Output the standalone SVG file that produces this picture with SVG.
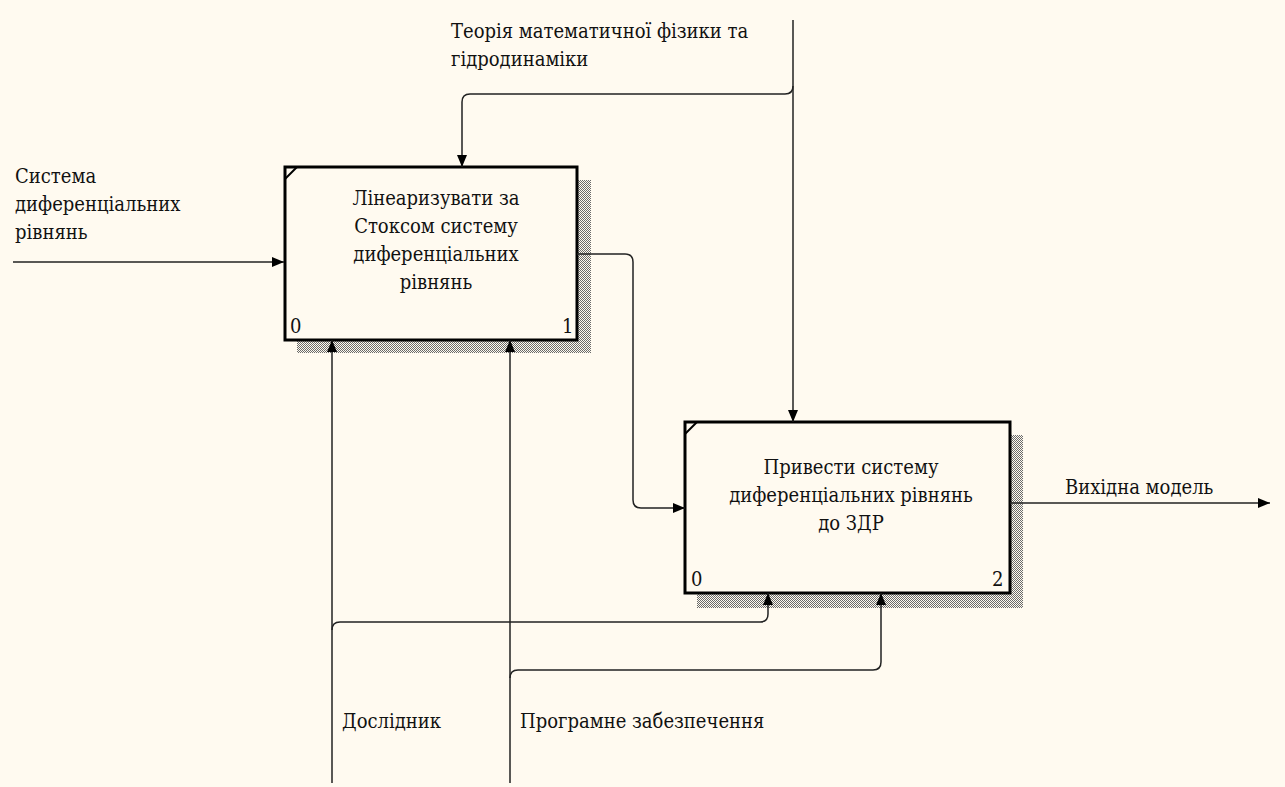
<svg xmlns="http://www.w3.org/2000/svg" width="1285" height="787" viewBox="0 0 1285 787">
<defs>
<pattern id="hatch" width="2" height="2" patternUnits="userSpaceOnUse">
<rect width="2" height="2" fill="#fffaf0"/>
<rect x="0" y="0" width="1" height="1" fill="#6a6a6a"/>
<rect x="1" y="1" width="1" height="1" fill="#6a6a6a"/>
</pattern>
<marker id="arr" viewBox="0 0 12 10" refX="12" refY="5" markerWidth="13" markerHeight="10" markerUnits="userSpaceOnUse" orient="auto">
<path d="M0,0 L12,5 L0,10 Z" fill="#000"/>
</marker>
</defs>
<style>
.t{font-family:"DejaVu Serif Condensed","DejaVu Serif",serif;font-size:20px;fill:#111}
.box{fill:#fffaf0;stroke:#000;stroke-width:3}
.sh{fill:url(#hatch)}
.ca{fill:none;stroke:#222;stroke-width:1.5;marker-end:url(#arr)}
.d{stroke:#000;stroke-width:2}
</style>
<rect width="1285" height="787" fill="#fffaf0"/>

<g id="node1">
<rect class="sh" x="297" y="180" width="294" height="173"/>
<rect class="box" x="285" y="167" width="292" height="173"/>
<line class="d" x1="297" y1="167" x2="285" y2="179"/>
<text class="t" text-anchor="middle" x="436" y="205">Лінеаризувати за</text>
<text class="t" text-anchor="middle" x="436" y="233">Стоксом систему</text>
<text class="t" text-anchor="middle" x="436" y="261">диференціальних</text>
<text class="t" text-anchor="middle" x="436" y="289">рівнянь</text>
<text class="t" x="290" y="333">0</text>
<text class="t" x="562" y="333">1</text>
</g>

<g id="node2">
<rect class="sh" x="697" y="435" width="326" height="173"/>
<rect class="box" x="685" y="422" width="325" height="171"/>
<line class="d" x1="697" y1="422" x2="685" y2="434"/>
<text class="t" text-anchor="middle" x="851" y="474">Привести систему</text>
<text class="t" text-anchor="middle" x="851" y="502">диференціальних рівнянь</text>
<text class="t" text-anchor="middle" x="851" y="530">до ЗДР</text>
<text class="t" x="691" y="586">0</text>
<text class="t" x="992" y="586">2</text>
</g>

<g id="connectors">
<path class="ca" d="M13,262 L284,262"/>
<path class="ca" d="M793,20 L793,422"/>
<path class="ca" d="M793,86 Q793,94 785,94 L470,94 Q462,94 462,102 L462,167"/>
<path class="ca" d="M577,254 L625,254 Q633,254 633,262 L633,500 Q633,508 641,508 L685,508"/>
<path class="ca" d="M1010,503 L1270,503"/>
<path class="ca" d="M332,783 L332,340"/>
<path class="ca" d="M332,630 Q332,622 340,622 L760,622 Q768,622 768,614 L768,593"/>
<path class="ca" d="M510,783 L510,340"/>
<path class="ca" d="M510,678 Q510,670 518,670 L873,670 Q881,670 881,662 L881,593"/>
<text class="t" x="451" y="38">Теорія математичної фізики та</text>
<text class="t" x="451" y="66">гідродинаміки</text>
<text class="t" x="15" y="183">Система</text>
<text class="t" x="15" y="211">диференціальних</text>
<text class="t" x="15" y="239">рівнянь</text>
<text class="t" x="1065" y="494">Вихідна модель</text>
<text class="t" x="342" y="728">Дослідник</text>
<text class="t" x="520" y="728">Програмне забезпечення</text>
</g>
</svg>
